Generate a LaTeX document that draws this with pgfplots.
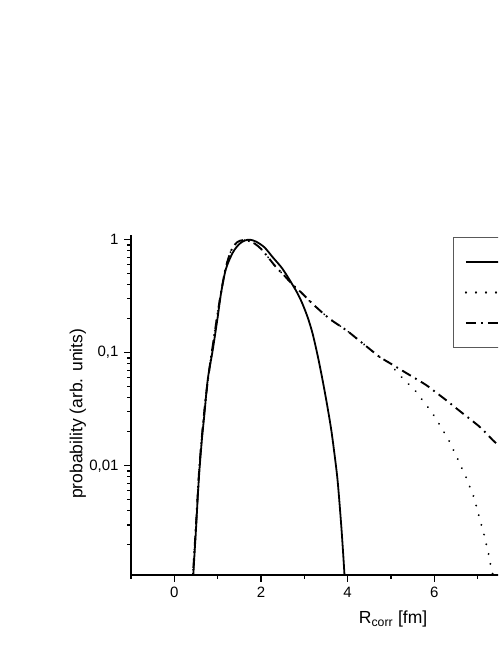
\documentclass[border=0pt]{standalone}
\usepackage{fontspec}
\setmainfont{Liberation Sans}
\usepackage{pgfplots}
\pgfplotsset{compat=1.18}

% radius distributions
\pgfplotstableread{
x y
0.43 0.0008
0.44 0.0011
0.47 0.00178
0.50 0.00275
0.54 0.00525
0.58 0.00923
0.64 0.0178
0.69 0.0275
0.77 0.0575
0.885 0.105
1.00 0.206
1.08 0.34
1.19 0.55
1.35 0.77
1.50 0.916
1.62 0.98
1.74 1.0
1.89 0.96
2.08 0.855
2.27 0.70
2.50 0.55
2.73 0.398
2.85 0.331
2.96 0.269
3.08 0.204
3.19 0.148
3.31 0.0933
3.42 0.0575
3.52 0.0355
3.62 0.0209
3.70 0.0123
3.77 0.00724
3.85 0.00302
3.90 0.00158
3.94 0.00089
3.96 0.0007
}\solid

\pgfplotstableread{
x y
0.40 0.0008
0.43 0.0011
0.50 0.0030
0.58 0.0100
0.69 0.030
0.80 0.068
0.90 0.125
1.04 0.28
1.18 0.55
1.31 0.80
1.45 0.95
1.58 0.99
1.72 0.975
1.86 0.92
2.00 0.83
2.15 0.71
2.35 0.57
2.54 0.48
2.73 0.40
2.95 0.335
3.19 0.271
3.58 0.20
3.97 0.158
4.30 0.125
4.60 0.101
4.73 0.092
4.96 0.0813
5.16 0.0656
5.39 0.0536
5.58 0.0452
5.75 0.0369
5.93 0.0301
6.07 0.0248
6.20 0.0205
6.33 0.0169
6.44 0.0138
6.54 0.01146
6.64 0.00942
6.74 0.0078
6.82 0.00646
6.91 0.0053
6.97 0.00439
7.03 0.00359
7.09 0.00295
7.15 0.00243
7.20 0.00201
7.25 0.00167
7.29 0.00137
7.34 0.00114
7.37 0.0009
}\dotted

\pgfplotstableread{
x y
0.40 0.0008
0.43 0.0011
0.50 0.0030
0.58 0.0100
0.69 0.030
0.80 0.068
0.90 0.125
1.04 0.28
1.18 0.55
1.31 0.80
1.45 0.95
1.58 0.99
1.72 0.975
1.86 0.92
2.00 0.83
2.15 0.71
2.35 0.57
2.54 0.48
2.73 0.40
2.95 0.335
3.19 0.271
3.58 0.20
3.97 0.158
4.30 0.125
4.60 0.101
4.73 0.092
5.00 0.0798
5.30 0.068
5.60 0.058
5.81 0.0518
6.05 0.0442
6.27 0.0381
6.60 0.0302
7.04 0.0222
7.27 0.0181
7.43 0.0158
7.80 0.0125
8.20 0.0095
}\dashdot

\begin{document}
\begin{tikzpicture}
\useasboundingbox (0,0) rectangle (498pt,645pt);
\clip (0,0) rectangle (498pt,645pt);
\begin{axis}[
    at={(131pt,70pt)}, anchor=south west,
    scale only axis,
    width=520pt, height=340pt,
    xmin=-1, xmax=11,
    ymode=log, ymin=0.00108, ymax=1.1,
    axis x line*=bottom, axis y line*=left,
    axis line style={line width=1.6pt},
    tick align=outside,
    major tick length=7pt, minor tick length=4pt,
    every tick/.style={line width=1.3pt, black},
    xtick={0,2,4,6},
    minor xtick={-1,1,3,5,7},
    ytick={0.01,0.1,1},
    yticklabels={{0,01},{0,1},{1}},
    minor ytick={0.002,0.003,0.004,0.005,0.006,0.007,0.008,0.009,
                 0.02,0.03,0.04,0.05,0.06,0.07,0.08,0.09,
                 0.2,0.3,0.4,0.5,0.6,0.7,0.8,0.9},
    /pgf/number format/assume math mode=true,
    tick label style={font=\fontsize{15}{18}\selectfont},
    xticklabel style={yshift=-2pt},
    yticklabel style={xshift=-2pt},
    xlabel={R\textsubscript{corr} [fm]},
    ylabel={probability (arb. units)},
    label style={font=\fontsize{17.5}{21}\selectfont},
    xlabel style={at={(axis description cs:0.504,-0.13)}, anchor=center},
    ylabel style={at={(axis description cs:-0.102,0.474)}, anchor=center},
    legend style={at={(axis cs:6.44,1.05)}, anchor=north west,
        draw=black!65, line width=1pt, inner xsep=11pt, inner ysep=9pt,
        nodes={inner sep=0pt, minimum height=30.5pt, text width=60pt}},
    legend image code/.code={\path (0pt,8pt); \draw[#1] (0pt,0pt) -- (45pt,0pt);},
    legend cell align=left,
]
\addplot[black, line width=1.8pt, smooth] table {\solid};
\addlegendentry{}
\addplot[black, line width=2.1pt, line cap=round, dash pattern=on 0.01pt off 10pt, smooth] table {\dotted};
\addlegendentry{}
\addplot[black, line width=1.9pt, dash pattern=on 10pt off 5pt on 1.8pt off 5pt, smooth] table {\dashdot};
\addlegendentry{}
\end{axis}
\end{tikzpicture}
\end{document}
